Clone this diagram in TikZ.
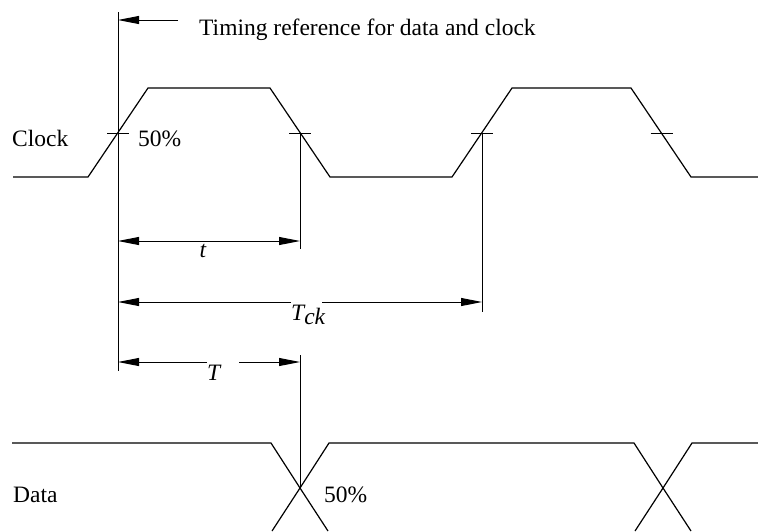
\documentclass[tikz,border=0pt]{standalone}
\usepackage{fontspec}
\setmainfont{Liberation Serif}
\usetikzlibrary{arrows.meta,calc}

\begin{document}
\begin{tikzpicture}[x=1pt,y=-1pt,
  wave/.style={line width=1.2pt},
  refline/.style={line width=0.9pt},
  tip/.style={refline,-{Triangle[length=21pt,width=8pt]}},
  dimarrow/.style={refline,{Triangle[length=21pt,width=8pt]}-{Triangle[length=21pt,width=8pt]}},
  lbl/.style={anchor=base west},
  every node/.style={font=\fontsize{23.5}{28}\selectfont, inner sep=0pt}]
\useasboundingbox (0,0) rectangle (758,531);
\coordinate (r1) at (118,133);
\coordinate (f1) at (300,133);
\coordinate (r2) at (482,133);
\coordinate (f2) at (661.5,133);
\coordinate (x1) at (300,488);
\coordinate (x2) at (663,488);
\coordinate (top) at (118,12);
\coordinate (arr) at (178,20);
% clock
\draw[wave] (13,177) -- (88,177) -- (148,88) -- (270,88) -- (330,177) -- (452,177)
  -- (512,88) -- (631,88) -- (691,177) -- (758,177);
\foreach \p in {r1,f1,r2,f2} {
\draw[refline] ($(\p)+(-11,0)$) -- ($(\p)+(11,0)$);
}
% data
\draw[wave] (12,443) -- (271,443) -- (x1) -- (328,531);
\draw[wave] (272,531) -- (x1) -- (329,443) -- (634,443) -- (x2) -- (691,531);
\draw[wave] (635,531) -- (x2) -- (692,443) -- (758,443);
% labels
\node[lbl] (title) at (199,35.7) {Timing reference for data and clock};
\node[lbl] (clk) at (12,146.7) {Clock};
\node[lbl] (pclk) at (138,146.7) {50\%};
\node[lbl] (dat) at (13,502) {Data};
\node[lbl] (pdat) at (324,502) {50\%};
\node[anchor=base] (tlab) at (203,257) {\itshape t};
\node[lbl] (tck) at (291,320.7) {\itshape T\raisebox{-4pt}{ck}};
\node[lbl] (tset) at (207,380) {\itshape T};
% reference lines
\draw[refline] (top) -- (118,371);
\draw[refline] (f1) -- (300,249);
\draw[refline] (300,355) -- (x1);
\draw[refline] (r2) -- (482,312);
\draw[tip] (arr) -- (top|-arr);
% dimensions
\draw[dimarrow] (r1|-0,241) -- (f1|-0,241);
\draw[tip] (tck.west|-0,302) -- (r1|-0,302);
\draw[tip] ($(tck.west|-0,302)+(31,0)$) -- (r2|-0,302);
\draw[tip] (tset.west|-0,362) -- (r1|-0,362);
\draw[tip] ($(tset.west|-0,362)+(32,0)$) -- (f1|-0,362);
\end{tikzpicture}
\end{document}
